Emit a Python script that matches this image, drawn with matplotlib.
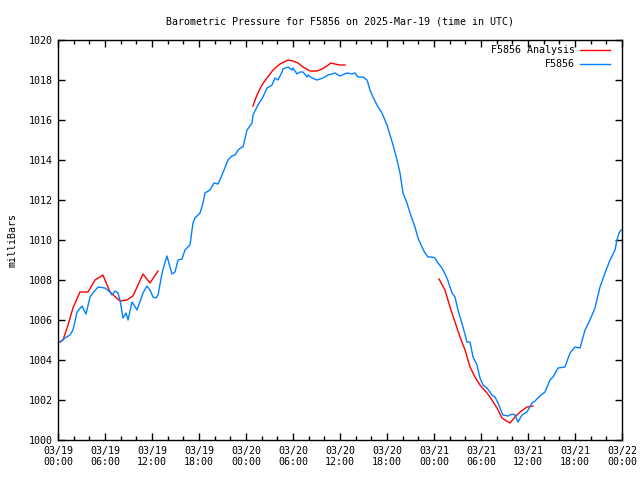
import matplotlib
matplotlib.use("Agg")
import matplotlib.pyplot as plt
import numpy as np

# hours since 2025-03-19 00:00 UTC
station_hours = [0.26, 0.89, 1.53, 1.91, 2.43, 3.06, 3.57, 4.09, 4.47, 5.11, 6.0, 6.64, 6.89, 7.28,
                 7.66, 7.91, 8.3, 8.68, 8.94, 9.45, 10.09, 10.85, 11.36, 11.74, 12.13, 12.51, 12.77,
                 13.28, 13.91, 14.55, 14.94, 15.32, 15.83, 16.21, 16.85, 17.23, 17.49, 18.13, 18.51,
                 18.77, 19.4, 19.91, 20.43, 20.94, 21.7, 22.21, 22.6, 22.98, 23.49, 23.62, 24.13,
                 24.77, 24.89, 25.53, 26.17, 26.68, 27.32, 27.7, 28.09, 28.6, 28.72, 29.36, 29.87,
                 30.0, 30.51, 30.89, 31.28, 31.79, 31.91, 32.43, 33.06, 33.45, 33.83, 34.47, 35.36,
                 36.0, 36.89, 37.53, 37.91, 38.3, 38.94, 39.45, 39.83, 40.21, 40.85, 41.36, 42.0,
                 42.38, 42.77, 43.28, 43.66, 44.04, 44.55, 44.94, 45.57, 45.96, 46.47, 46.85, 47.23,
                 47.74, 48.13, 48.51, 49.02, 49.66, 50.3, 50.68, 51.06, 51.7, 52.21, 52.6, 52.98,
                 53.49, 53.87, 54.26, 54.77, 55.4, 55.79, 56.17, 56.68, 56.81, 57.45, 57.96, 58.34,
                 58.72, 59.23, 59.87, 60.51, 60.89, 61.53, 62.17, 62.81, 63.19, 63.83, 64.72, 65.36,
                 66.0, 66.64, 67.28, 67.91, 68.55, 69.19, 69.83, 70.47, 71.11, 71.36, 71.62, 71.87]
station_mb = [1004.9, 1005.1, 1005.25, 1005.5, 1006.4, 1006.7, 1006.3, 1007.15, 1007.35, 1007.65,
              1007.6, 1007.4, 1007.25, 1007.45, 1007.35, 1007.0, 1006.1, 1006.35, 1006.0, 1006.9,
              1006.5, 1007.35, 1007.7, 1007.5, 1007.15, 1007.1, 1007.25, 1008.35, 1009.2, 1008.3,
              1008.4, 1009.0, 1009.05, 1009.5, 1009.75, 1010.85, 1011.1, 1011.35, 1011.85, 1012.35,
              1012.5, 1012.85, 1012.8, 1013.25, 1014.0, 1014.2, 1014.25, 1014.5, 1014.65, 1014.65,
              1015.5, 1015.85, 1016.25, 1016.75, 1017.15, 1017.6, 1017.75, 1018.1, 1018.0, 1018.4,
              1018.55, 1018.65, 1018.5, 1018.6, 1018.3, 1018.4, 1018.4, 1018.15, 1018.25, 1018.1,
              1018.0, 1018.05, 1018.1, 1018.25, 1018.35, 1018.2, 1018.35, 1018.3, 1018.35, 1018.15,
              1018.15, 1018.0, 1017.5, 1017.15, 1016.65, 1016.35, 1015.75, 1015.25, 1014.75, 1014.0,
              1013.35, 1012.35, 1011.85, 1011.35, 1010.65, 1010.1, 1009.65, 1009.35, 1009.15, 1009.15,
              1009.1, 1008.85, 1008.6, 1008.1, 1007.35, 1007.15, 1006.5, 1005.65, 1004.9, 1004.9,
              1004.15, 1003.75, 1003.1, 1002.75, 1002.6, 1002.25, 1002.15, 1001.85, 1001.35, 1001.25,
              1001.2, 1001.3, 1001.25, 1000.9, 1001.25, 1001.4, 1001.85, 1001.95, 1002.2, 1002.4,
              1003.0, 1003.15, 1003.6, 1003.65, 1004.35, 1004.65, 1004.6, 1005.5, 1006.0, 1006.6,
              1007.65, 1008.35, 1009.0, 1009.5, 1010.0, 1010.35, 1010.5]

# analysis runs, NaN separates the three pieces
nan = float("nan")
analysis_hours = [0.26, 0.64, 1.28, 1.91, 2.81, 3.83, 4.72, 5.36, 5.74, 6.64, 7.91, 8.81, 9.57,
                  10.85, 11.74, 12.77, nan,
                  24.89, 25.4, 26.04, 26.68, 27.45, 28.34, 29.36, 30.0, 30.64, 31.28, 32.17, 33.06,
                  33.7, 34.34, 34.85, 35.36, 36.0, 36.64, nan,
                  48.64, 49.4, 50.04, 50.68, 51.32, 51.96, 52.6, 53.23, 53.87, 54.77, 55.4, 56.04,
                  56.68, 57.06, 57.7, 58.34, 58.98, 59.87, 60.64]
analysis_mb = [1004.9, 1005.0, 1005.75, 1006.6, 1007.4, 1007.4, 1008.0, 1008.15, 1008.25, 1007.4,
               1006.95, 1007.0, 1007.2, 1008.3, 1007.85, 1008.45, nan,
               1016.7, 1017.25, 1017.75, 1018.1, 1018.5, 1018.8, 1019.0, 1018.95, 1018.85, 1018.65,
               1018.45, 1018.45, 1018.55, 1018.7, 1018.85, 1018.8, 1018.75, 1018.75, nan,
               1008.05, 1007.5, 1006.65, 1005.9, 1005.15, 1004.5, 1003.65, 1003.15, 1002.75, 1002.35,
               1002.0, 1001.6, 1001.1, 1001.0, 1000.85, 1001.15, 1001.4, 1001.65, 1001.7]

tick_hours = list(range(0, 73, 6))
tick_labels = ["03/19\n00:00", "03/19\n06:00", "03/19\n12:00", "03/19\n18:00",
               "03/20\n00:00", "03/20\n06:00", "03/20\n12:00", "03/20\n18:00",
               "03/21\n00:00", "03/21\n06:00", "03/21\n12:00", "03/21\n18:00",
               "03/22\n00:00"]

plt.rcParams['font.family'] = ['DejaVu Sans Mono']
plt.rcParams['font.size'] = 7.2

fig = plt.figure(figsize=(6.4, 4.8), dpi=100)
ax = fig.add_axes([58/640, 40/480, 564/640, 400/480])

ax.plot(analysis_hours, analysis_mb, color='#ff0000', lw=1, label='F5856 Analysis')
ax.plot(station_hours, station_mb, color='#0080ff', lw=1, label='F5856')

ax.set_xlim(0, 72)
ax.set_ylim(1000, 1020)
ax.set_xticks(tick_hours)
ax.set_xticklabels(tick_labels)
ax.set_xticks(range(0, 73, 2), minor=True)
ax.set_yticks(range(1000, 1021, 2))
ax.tick_params(which='both', direction='in', top=True, right=True, width=1)
ax.tick_params(which='major', length=5, pad=4)
ax.tick_params(which='minor', length=3)
for s in ax.spines.values():
    s.set_linewidth(1)

ax.set_title('Barometric Pressure for F5856 on 2025-Mar-19 (time in UTC)', fontsize=7.2, pad=11)
ax.set_ylabel('milliBars', labelpad=8)
ax.legend(loc='upper right', bbox_to_anchor=(0.979, 0.987), frameon=False, markerfirst=False,
          handlelength=3, borderaxespad=0, borderpad=0, labelspacing=0.4, handletextpad=0.5)

fig.savefig('out.png', dpi=100)
